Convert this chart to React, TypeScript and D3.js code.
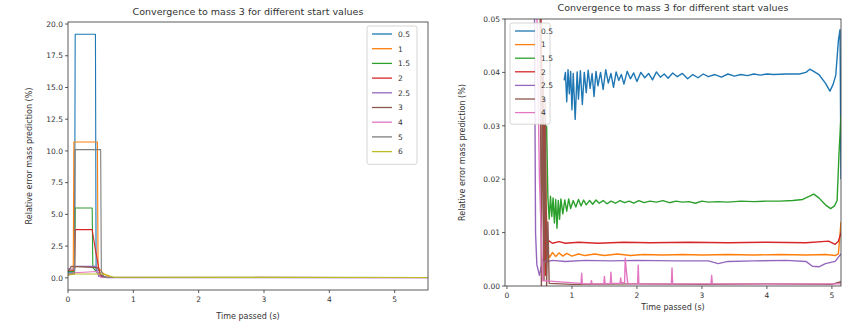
import * as d3 from "d3";

// start values of the mass estimate, one line each
const leftLabels = ["0.5", "1", "1.5", "2", "2.5", "3", "4", "5", "6"];
const rightLabels = ["0.5", "1", "1.5", "2", "2.5", "3", "4"];
const colors = ["#1f77b4", "#ff7f0e", "#2ca02c", "#d62728", "#9467bd", "#8c564b", "#e377c2", "#7f7f7f", "#bcbd22"];

const leftXTicks = [0, 1, 2, 3, 4, 5];
const leftYTicks = [0, 2.5, 5, 7.5, 10, 12.5, 15, 17.5, 20];
const rightXTicks = [0, 1, 2, 3, 4, 5];
const rightYTicks = [0, 0.01, 0.02, 0.03, 0.04, 0.05];

// left panel, [time, error %]
const left05 = [[0, 0.4], [0.1, 0.4], [0.11, 19.2], [0.42, 19.2], [0.43, 0.6], [0.5, 0.2], [0.6, 0.02], [5.5, 0.02]];
const left1 = [[0, 0.3], [0.08, 0.3], [0.09, 10.7], [0.45, 10.7], [0.46, 0.8], [0.55, 0.3], [0.65, 0.02], [5.5, 0.02]];
const left15 = [[0, 0.5], [0.1, 0.5], [0.11, 5.5], [0.37, 5.5], [0.38, 0.8], [0.5, 0.1], [0.6, 0.02], [5.5, 0.02]];
const left2 = [[0, 0.6], [0.1, 0.6], [0.11, 3.8], [0.37, 3.8], [0.42, 2.2], [0.47, 0.8], [0.5, 0.1], [0.6, 0.02], [5.5, 0.02]];
const left25 = [[0, 0.7], [0.1, 0.7], [0.11, 0.9], [0.43, 0.9], [0.47, 0.1], [0.6, 0.01], [5.5, 0.01]];
const left3 = [[0, 0.5], [0.05, 0.9], [0.45, 0.8], [0.5, 0.3], [0.55, 0.02], [5.5, 0.02]];
const left4 = [[0, 0.2], [0.1, 0.4], [0.45, 0.5], [0.5, 0.05], [5.5, 0.01]];
const left5 = [[0, 0.3], [0.1, 0.3], [0.11, 10.1], [0.5, 10.1], [0.51, 0.5], [0.56, 0.05], [5.5, 0.02]];
const left6 = [[0, 0.2], [0.1, 0.3], [0.55, 0.3], [0.7, 0.05], [5.5, 0.02]];

// right panel, zoomed in on the tail
const right05 = [[0.88, 0.0385], [0.9, 0.04], [0.92, 0.0345], [0.94, 0.0405], [0.96, 0.036], [0.98, 0.0402], [1.0, 0.033], [1.02, 0.0398], [1.05, 0.0312], [1.08, 0.0401], [1.1, 0.035], [1.13, 0.0403], [1.16, 0.034], [1.19, 0.04], [1.22, 0.0362], [1.25, 0.0404], [1.28, 0.037], [1.31, 0.0398], [1.34, 0.0355], [1.37, 0.0402], [1.4, 0.0375], [1.44, 0.04], [1.48, 0.0368], [1.52, 0.0405], [1.56, 0.038], [1.6, 0.0398], [1.64, 0.0372], [1.68, 0.0401], [1.72, 0.0385], [1.76, 0.0396], [1.8, 0.0378], [1.85, 0.0402], [1.9, 0.0388], [1.95, 0.0399], [2.0, 0.0383], [2.06, 0.04], [2.12, 0.039], [2.18, 0.0398], [2.24, 0.0386], [2.3, 0.0401], [2.36, 0.0391], [2.42, 0.0397], [2.48, 0.0389], [2.55, 0.0399], [2.62, 0.0392], [2.7, 0.0398], [2.78, 0.0388], [2.86, 0.0396], [2.94, 0.039], [3.02, 0.0397], [3.1, 0.0392], [3.2, 0.0396], [3.3, 0.0391], [3.4, 0.0397], [3.5, 0.0393], [3.6, 0.0396], [3.7, 0.0394], [3.8, 0.0397], [3.9, 0.0395], [4.0, 0.0397], [4.1, 0.0396], [4.3, 0.0397], [4.5, 0.0397], [4.6, 0.04], [4.66, 0.0406], [4.72, 0.0402], [4.8, 0.0396], [4.9, 0.038], [4.97, 0.0365], [5.02, 0.0378], [5.06, 0.0395], [5.1, 0.046], [5.125, 0.048], [5.14, 0.02]];
const right1 = [[0.58, 0.03], [0.62, 0.0062], [0.66, 0.0054], [0.7, 0.0063], [0.75, 0.0055], [0.8, 0.0062], [0.86, 0.0056], [0.92, 0.0061], [1.0, 0.0056], [1.1, 0.006], [1.2, 0.0057], [1.35, 0.006], [1.5, 0.0057], [1.7, 0.006], [1.9, 0.0057], [2.1, 0.0059], [2.4, 0.0058], [2.7, 0.0059], [3.0, 0.0058], [3.4, 0.0059], [3.8, 0.0058], [4.2, 0.0059], [4.6, 0.0058], [4.9, 0.0059], [5.05, 0.0057], [5.1, 0.006], [5.14, 0.012]];
const right15 = [[0.61, 0.03], [0.63, 0.0165], [0.65, 0.0125], [0.67, 0.0168], [0.69, 0.013], [0.71, 0.0165], [0.73, 0.0118], [0.75, 0.0162], [0.77, 0.0108], [0.79, 0.016], [0.81, 0.0125], [0.83, 0.0163], [0.86, 0.0135], [0.89, 0.0161], [0.92, 0.014], [0.95, 0.0163], [0.98, 0.0145], [1.02, 0.016], [1.06, 0.0148], [1.1, 0.0162], [1.14, 0.015], [1.18, 0.0161], [1.22, 0.0152], [1.27, 0.016], [1.32, 0.0153], [1.37, 0.0161], [1.42, 0.0155], [1.48, 0.016], [1.54, 0.0154], [1.6, 0.0159], [1.67, 0.0155], [1.74, 0.016], [1.81, 0.0156], [1.88, 0.0159], [1.95, 0.0155], [2.03, 0.016], [2.11, 0.0156], [2.2, 0.0159], [2.3, 0.0157], [2.4, 0.016], [2.5, 0.0156], [2.6, 0.0159], [2.7, 0.0157], [2.8, 0.0158], [2.9, 0.0155], [3.0, 0.0159], [3.1, 0.0157], [3.25, 0.0158], [3.4, 0.0157], [3.6, 0.0159], [3.8, 0.0158], [4.0, 0.0159], [4.2, 0.0159], [4.4, 0.016], [4.55, 0.0162], [4.65, 0.0168], [4.72, 0.0172], [4.8, 0.0165], [4.9, 0.0152], [4.98, 0.0145], [5.04, 0.015], [5.08, 0.016], [5.11, 0.025], [5.14, 0.032]];
const right2 = [[0.5, 0.07], [0.53, 0.045], [0.55, 0.02], [0.56, 0.04], [0.57, 0.005], [0.58, 0.03], [0.59, 0.002], [0.6, 0.015], [0.62, 0.0075], [0.64, 0.0085], [0.7, 0.008], [0.8, 0.0083], [0.9, 0.008], [1.1, 0.0082], [1.4, 0.008], [1.8, 0.0082], [2.2, 0.0081], [2.8, 0.0082], [3.4, 0.0081], [4.0, 0.0082], [4.6, 0.0081], [4.95, 0.0084], [5.05, 0.0078], [5.1, 0.0084], [5.14, 0.01]];
const right25 = [[0.42, 0.06], [0.44, 0.01], [0.46, 0.004], [0.5, 0.002], [0.55, 0.005], [0.6, 0.0045], [0.7, 0.0048], [0.9, 0.0046], [1.2, 0.0048], [1.6, 0.0047], [2.0, 0.0048], [2.6, 0.0047], [3.1, 0.0047], [3.25, 0.0042], [3.4, 0.0046], [3.8, 0.0047], [4.3, 0.0048], [4.6, 0.0046], [4.7, 0.0037], [4.8, 0.0036], [4.9, 0.0042], [5.05, 0.0046], [5.14, 0.006]];
const right3 = [[0.5, 0.08], [0.53, 0.0], [0.55, 0.04], [0.57, 0.001], [0.59, 0.035], [0.61, 0.0], [0.63, 0.012], [0.65, 0.0005], [1.0, 0.0003], [2.0, 0.0004], [3.0, 0.0003], [4.0, 0.0004], [5.0, 0.0003], [5.14, 0.0008]];
const right4 = [[0.45, 0.06], [0.5, 0.02], [0.55, 0.001], [1.14, 0.0005], [1.15, 0.0024], [1.16, 0.0004], [1.29, 0.0004], [1.3, 0.001], [1.31, 0.0004], [1.49, 0.0004], [1.5, 0.0018], [1.51, 0.0004], [1.59, 0.0005], [1.6, 0.0026], [1.61, 0.0005], [1.74, 0.0005], [1.75, 0.0015], [1.76, 0.0006], [1.81, 0.0006], [1.82, 0.0052], [1.84, 0.0025], [1.86, 0.0004], [2.01, 0.0004], [2.02, 0.0039], [2.03, 0.0004], [2.53, 0.0004], [2.54, 0.0034], [2.55, 0.0004], [3.14, 0.0004], [3.15, 0.002], [3.16, 0.0004], [5.14, 0.0004]];

const leftSeries = [left05, left1, left15, left2, left25, left3, left4, left5, left6];
const rightSeries = [right05, right1, right15, right2, right25, right3, right4];

const font = "DejaVu Sans, sans-serif";
const ink = "#333";

const Panel = ({ id, x0, x1, y0, y1, xDomain, yDomain, xTicks, yTicks, yFmt, series, labels, legend, titleY, xLabelY, yLabelX, lw }) => {
  const x = d3.scaleLinear().domain(xDomain).range([x0, x1]);
  const y = d3.scaleLinear().domain(yDomain).range([y1, y0]);
  const line = d3.line().x((d) => x(d[0])).y((d) => y(d[1]));
  const fmt = d3.format(yFmt);
  const cx = (x0 + x1) / 2;

  return (
    <g fontFamily={font} fill={ink}>
      <defs>
        <clipPath id={id}>
          <rect x={x0} y={y0} width={x1 - x0} height={y1 - y0} />
        </clipPath>
      </defs>
      <g clipPath={`url(#${id})`}>
        {series.map((s, i) => (
          <path key={i} d={line(s)} fill="none" stroke={colors[i]} strokeWidth={lw} strokeLinejoin="round" />
        ))}
      </g>
      <rect x={x0} y={y0} width={x1 - x0} height={y1 - y0} fill="none" stroke={ink} strokeWidth={0.8} />
      {xTicks.map((t) => (
        <g key={t}>
          <line x1={x(t)} x2={x(t)} y1={y1} y2={y1 + 3} stroke={ink} strokeWidth={0.8} />
          <text x={x(t)} y={y1 + 12} fontSize={7.5} textAnchor="middle">{t}</text>
        </g>
      ))}
      {yTicks.map((t) => (
        <g key={t}>
          <line x1={x0 - 3} x2={x0} y1={y(t)} y2={y(t)} stroke={ink} strokeWidth={0.8} />
          <text x={x0 - 5} y={y(t) + 2.7} fontSize={7.5} textAnchor="end">{fmt(t)}</text>
        </g>
      ))}
      <text x={cx} y={titleY} fontSize={9.5} textAnchor="middle">
        Convergence to mass 3 for different start values
      </text>
      <text x={cx} y={xLabelY} fontSize={8} textAnchor="middle">Time passed (s)</text>
      <text transform={`translate(${yLabelX},${(y0 + y1) / 2}) rotate(-90)`} fontSize={8} textAnchor="middle">
        Relative error mass prediction (%)
      </text>
      <rect x={legend.x} y={legend.y} width={legend.w} height={legend.step * labels.length + 6} rx={2}
        fill="white" fillOpacity={0.85} stroke="#ccc" strokeWidth={0.8} />
      {labels.map((l, i) => {
        const ly = legend.y + 8 + i * legend.step;
        return (
          <g key={l}>
            <line x1={legend.x + 5} x2={legend.x + 25} y1={ly} y2={ly} stroke={colors[i]} strokeWidth={1.3} />
            <text x={legend.x + 31} y={ly + 2.8} fontSize={7.5}>{l}</text>
          </g>
        );
      })}
    </g>
  );
};

export default function App() {
  return (
    <svg width={843} height={323} style={{ position: "absolute", left: 0, top: 0, background: "white" }}>
      <Panel id="clipL" x0={68} x1={428} y0={22} y1={290} xDomain={[0, 5.51]} yDomain={[-0.96, 20.16]}
        xTicks={leftXTicks} yTicks={leftYTicks} yFmt=".1f" series={leftSeries} labels={leftLabels}
        legend={{ x: 367, y: 26, w: 50, step: 14.7 }} titleY={15} xLabelY={319} yLabelX={32} lw={1.1} />
      <Panel id="clipR" x0={505} x1={841} y0={19} y1={286} xDomain={[-0.03, 5.14]} yDomain={[0, 0.05]}
        xTicks={rightXTicks} yTicks={rightYTicks} yFmt=".2f" series={rightSeries} labels={rightLabels}
        legend={{ x: 510, y: 23, w: 40, step: 13.6 }} titleY={11} xLabelY={310} yLabelX={465} lw={1.4} />
    </svg>
  );
}
